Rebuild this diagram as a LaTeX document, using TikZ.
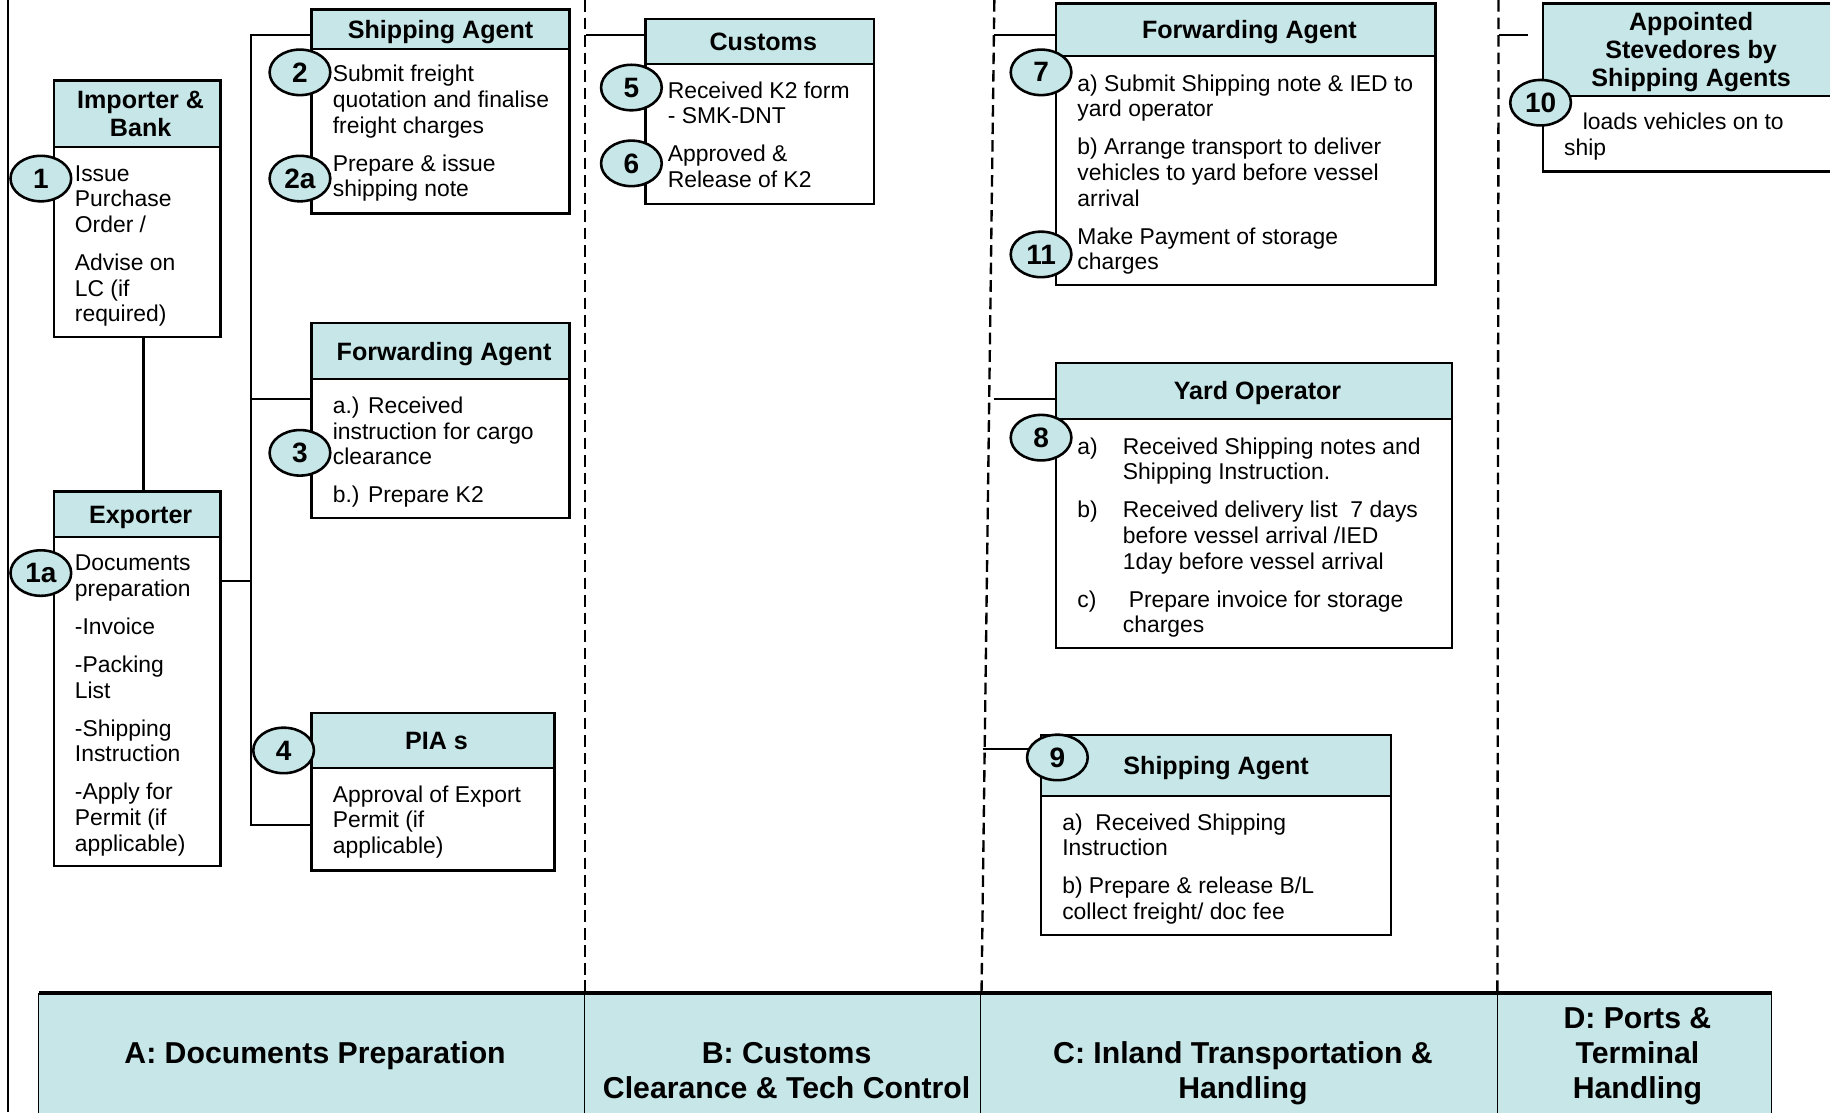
\documentclass[tikz,border=0pt]{standalone}
\usepackage{fontspec}
\setmainfont{Liberation Sans}
\usepackage{tikz}
\usetikzlibrary{shapes,positioning}
\definecolor{paleteal}{RGB}{198,230,232}
\newcommand{\txtfont}{\fontsize{19.6}{22}\selectfont}
\newcommand{\hdrfont}{\fontsize{21.5}{24}\selectfont\bfseries}
\newcommand{\numfont}{\fontsize{24}{24}\selectfont\bfseries}
\newcommand{\phasefont}{\fontsize{25.9}{30}\selectfont\bfseries}
\newcommand{\htop}{\rule{0pt}{0.958em}}
\newcommand{\hbot}{\rule[-0.242em]{0pt}{0.242em}}
\newcommand{\hpad}{\hspace{6pt}}
\tikzstyle{hdr}=[draw,fill=paleteal,line width=2pt,anchor=north west,inner sep=0pt,outer sep=0pt,align=center,font=\hdrfont]
\tikzstyle{bodybox}=[draw,line width=2pt,anchor=north west,inner sep=0pt,outer sep=0pt]
\tikzstyle{txt}=[anchor=north west,inner sep=0pt,align=left,font=\txtfont]
\tikzstyle{num}=[ellipse,draw,fill=paleteal,line width=2.2pt,minimum width=52pt,minimum height=39pt,inner sep=0pt,font=\numfont]
\tikzstyle{link}=[line width=2pt]
\tikzstyle{lanesep}=[line width=2pt,dash pattern=on 10pt off 5pt]
\tikzstyle{phasebox}=[draw,fill=paleteal,line width=1pt,anchor=north west,inner sep=0pt,outer sep=0pt]
\tikzstyle{phaselabel}=[anchor=north,inner sep=0pt,align=center,font=\phasefont]

\begin{document}
\begin{tikzpicture}[x=1pt,y=-1pt]
\useasboundingbox (0,0) rectangle (1568,953);

\coordinate (frame_t) at (7,0);
\coordinate (frame_b) at (7,953);
\draw[line width=1.2pt] (frame_t) -- (frame_b);

\coordinate (laneB_t) at (501,0);
\coordinate (laneB_b) at (501,851);
\coordinate (laneC_t) at (852,0);
\coordinate (laneC_b) at (841,851);
\coordinate (laneD_t) at (1284,0);
\coordinate (laneD_b) at (1283,851);
\draw[lanesep] (laneB_t) -- (laneB_b);
\draw[lanesep] (laneC_t) -- (laneC_b);
\draw[lanesep] (laneD_t) -- (laneD_b);

\node[phasebox,minimum width=468pt,minimum height=115pt] (phA) at (33,851) {};
\node[phasebox,minimum width=339pt,minimum height=115pt] (phB) at (phA.north east) {};
\node[phasebox,minimum width=443pt,minimum height=115pt] (phC) at (phB.north east) {};
\node[phasebox,minimum width=235pt,minimum height=115pt] (phD) at (phC.north east) {};
\draw[line width=3pt] (phA.north west) -- (phD.north east);
\node[phaselabel] (phA_t) at (270,890.3) {\strut A: Documents Preparation};
\node[phaselabel] (phB_t) at (674,890.3) {\strut B: Customs\\Clearance \& Tech Control};
\node[phaselabel] (phC_t) at (1065,890.3) {\strut C: Inland Transportation \&\\Handling};
\node[phaselabel] (phD_t) at (1403,860.3) {\strut D: Ports \&\\Terminal\\Handling};

\node[hdr,minimum width=143pt,minimum height=57pt] (imp_h) at (46,69) {\htop\hpad Importer \&\\\hpad Bank\hbot};
\node[bodybox,minimum width=143pt,minimum height=163pt] (imp_b) at (imp_h.south west) {};
\node[hdr,minimum width=143pt,minimum height=39pt] (exp_h) at (46,421) {\htop\hpad Exporter\hbot};
\node[bodybox,minimum width=143pt,minimum height=282pt] (exp_b) at (exp_h.south west) {};
\node[hdr,minimum width=221pt,minimum height=34pt] (sa1_h) at (267,8) {\htop Shipping Agent\hbot};
\node[bodybox,minimum width=221pt,minimum height=141pt] (sa1_b) at (sa1_h.south west) {};
\node[hdr,minimum width=221pt,minimum height=48pt] (fa1_h) at (267,277) {\htop\hpad Forwarding Agent\hbot};
\node[bodybox,minimum width=221pt,minimum height=119pt] (fa1_b) at (fa1_h.south west) {};
\node[hdr,minimum width=208pt,minimum height=47pt] (pia_h) at (267,611) {\htop\hpad PIA s\hbot};
\node[bodybox,minimum width=208pt,minimum height=88pt] (pia_b) at (pia_h.south west) {};
\node[hdr,minimum width=196pt,minimum height=39pt] (cus_h) at (553,16) {\htop\hpad Customs\hbot};
\node[bodybox,minimum width=196pt,minimum height=120pt] (cus_b) at (cus_h.south west) {};
\node[hdr,minimum width=325pt,minimum height=45pt] (fa2_h) at (905,3) {\htop\hpad Forwarding Agent\hbot};
\node[bodybox,minimum width=325pt,minimum height=196pt] (fa2_b) at (fa2_h.south west) {};
\node[hdr,minimum width=339pt,minimum height=48pt] (yo_h) at (905,311) {\htop\hpad Yard Operator\hbot};
\node[bodybox,minimum width=339pt,minimum height=196pt] (yo_b) at (yo_h.south west) {};
\node[hdr,minimum width=300pt,minimum height=52pt] (sa2_h) at (892,630) {\htop Shipping Agent\hbot};
\node[bodybox,minimum width=300pt,minimum height=119pt] (sa2_b) at (sa2_h.south west) {};
\node[hdr,minimum width=254pt,minimum height=79pt] (ste_h) at (1322,3) {\htop Appointed\\Stevedores by\\Shipping Agents\hbot};
\node[bodybox,minimum width=254pt,minimum height=65pt] (ste_b) at (ste_h.south west) {};

\coordinate (bus_top) at (215,30);
\coordinate (bus_fa) at (215,342);
\coordinate (bus_exp) at (215,498);
\coordinate (bus_bot) at (215,707);
\coordinate (imp_link) at (123,0);
\draw[link] (sa1_h.west |- bus_top) -- (bus_top) -- (bus_bot) -- (pia_b.west |- bus_bot);
\draw[link] (bus_fa) -- (fa1_b.west |- bus_fa);
\draw[link] (exp_b.east |- bus_exp) -- (bus_exp);
\draw[link] (imp_b.south -| imp_link) -- (exp_h.north -| imp_link);

\coordinate (cus_in) at (502,30);
\coordinate (fa2_in) at (852,30);
\coordinate (yo_in) at (852,342);
\coordinate (sa2_in) at (842,642);
\coordinate (ste_in) at (1284,30);
\coordinate (ste_end) at (1309,30);
\draw[link] (cus_in) -- (cus_h.west |- cus_in);
\draw[link] (fa2_in) -- (fa2_h.west |- fa2_in);
\draw[link] (yo_in) -- (yo_h.west |- yo_in);
\draw[link] (sa2_in) -- (sa2_h.west |- sa2_in);
\draw[link] (ste_in) -- (ste_end);

\node[txt] (imp_t) at (64,139.6) {\strut Issue\\Purchase\\Order /\\[10.5pt]Advise on\\LC (if\\required)};
\node[txt] (exp_t) at (64,473.6) {\strut Documents\\preparation\\[10.5pt]-Invoice\\[10.5pt]-Packing\\List\\[10.5pt]-Shipping\\Instruction\\[10.5pt]-Apply for\\Permit (if\\applicable)};
\node[txt] (sa1_t) at (285,54.6) {\strut Submit freight\\quotation and finalise\\freight charges\\[10.5pt]Prepare \& issue\\shipping note};
\node[txt] (fa1_t) at (285,338.6) {\strut a.) Received\\instruction for cargo\\clearance\\[10.5pt]b.) Prepare K2};
\node[txt] (pia_t) at (285,671.6) {\strut Approval of Export\\Permit (if\\applicable)};
\node[txt] (cus_t) at (572,68.6) {\strut Received K2 form\\- SMK-DNT\\[10.5pt]Approved \&\\Release of K2};
\node[txt] (fa2_t) at (923,62.6) {\strut a) Submit Shipping note \& IED to\\yard operator\\[10.5pt]b) Arrange transport to deliver\\vehicles to yard before vessel\\arrival\\[10.5pt]Make Payment of storage\\charges};
\node[txt] (yo_t) at (923,373.6) {\begin{tabular}{@{}p{39pt}@{}l@{}}
a) & Received Shipping notes and\\
 & Shipping Instruction.\\[10.5pt]
b) & Received delivery list\ \ 7 days\\
 & before vessel arrival /IED\\
 & 1day before vessel arrival\\[10.5pt]
c) & \hspace{5pt}Prepare invoice for storage\\
 & charges
\end{tabular}};
\node[txt] (sa2_t) at (910,695.6) {\strut a)\ \ Received Shipping\\Instruction\\[10.5pt]b) Prepare \& release B/L\\collect freight/ doc fee};
\node[txt] (ste_t) at (1340,95.6) {\strut\hspace{16pt}loads vehicles on to\\ship};

\node[num] (n1) at (35,153) {1};
\node[num] (n1a) at (35,491) {1a};
\node[num] (n2) at (257,62) {2};
\node[num] (n2a) at (257,153) {2a};
\node[num] (n3) at (257,388) {3};
\node[num] (n4) at (243,643) {4};
\node[num] (n5) at (541,75) {5};
\node[num] (n6) at (541,140) {6};
\node[num] (n7) at (892,62) {7};
\node[num] (n11) at (892,218) {11};
\node[num] (n8) at (892,375) {8};
\node[num] (n9) at (906,649) {9};
\node[num] (n10) at (1320,88) {10};
\end{tikzpicture}
\end{document}
